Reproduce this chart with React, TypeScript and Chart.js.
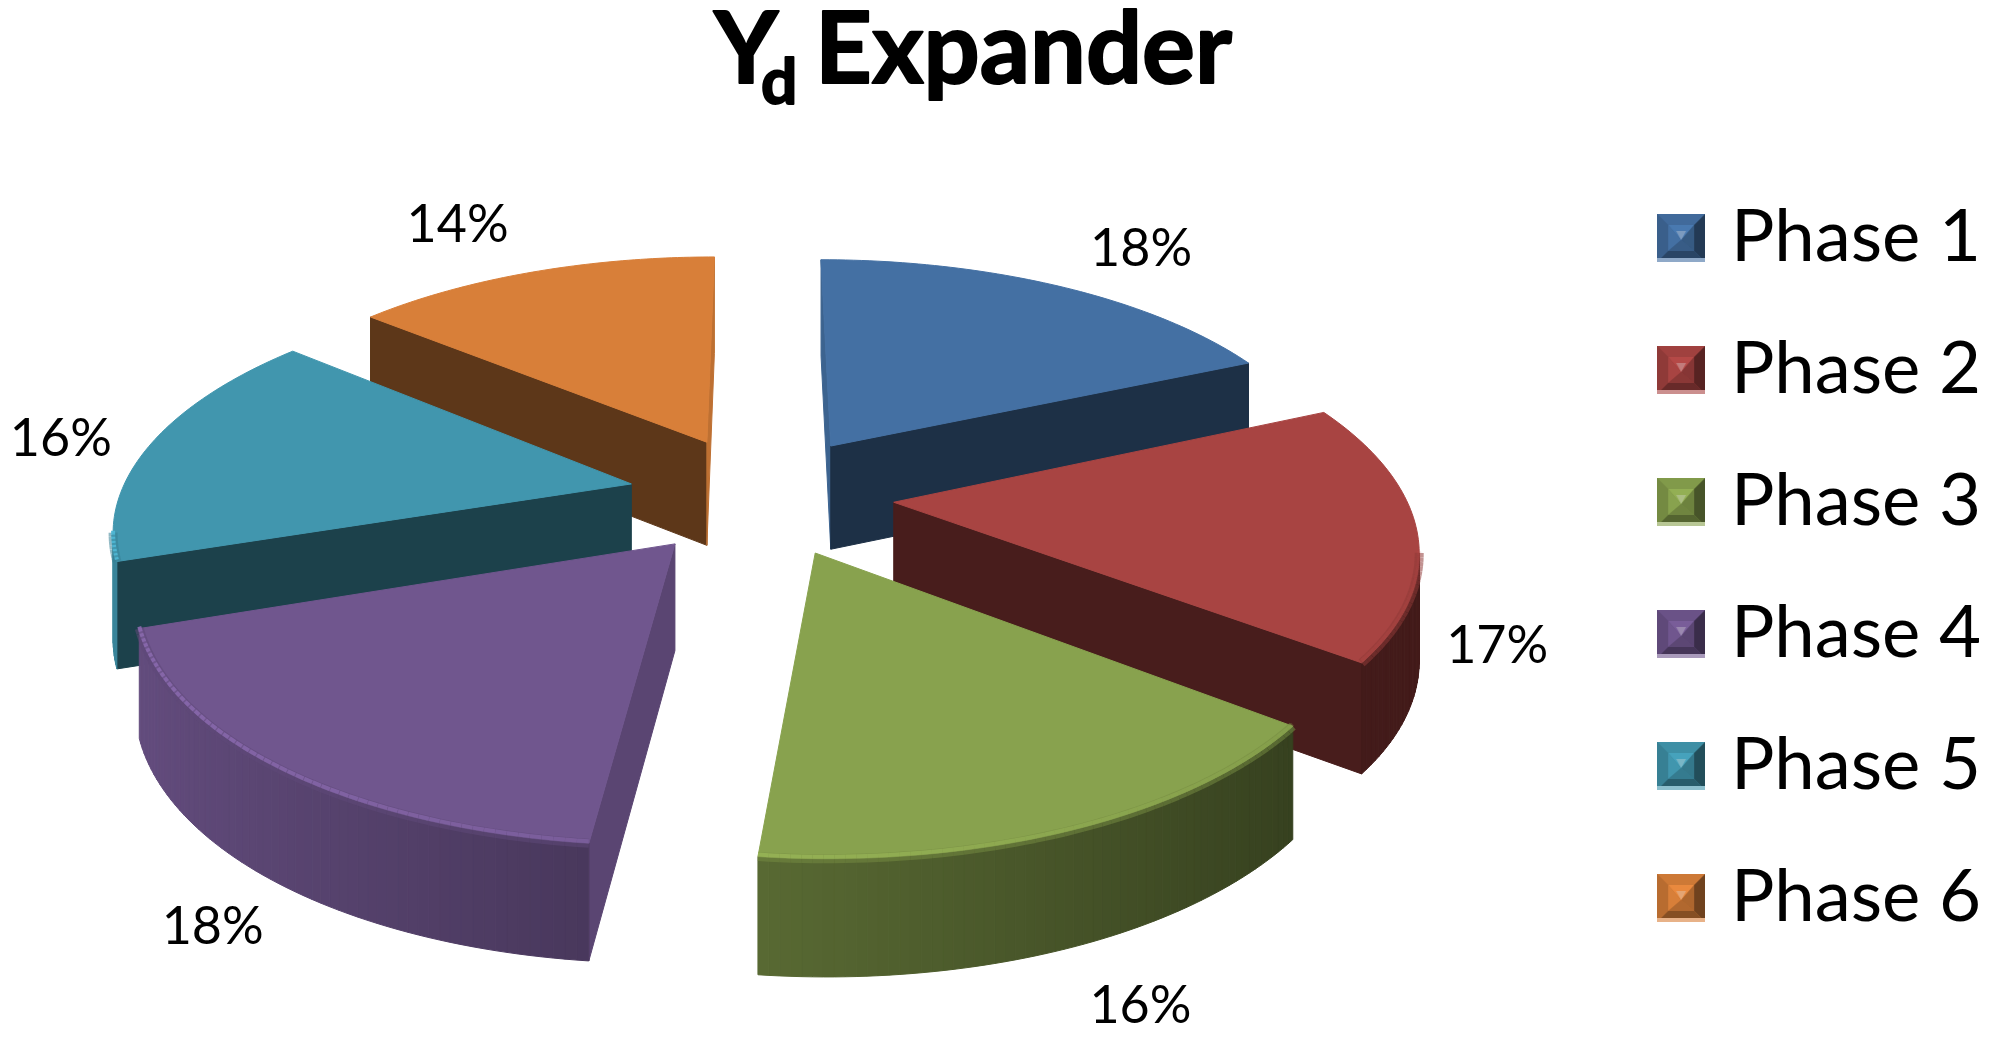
import React, { useEffect, useRef } from "react";
import { Chart, registerables } from "chart.js";

Chart.register(...registerables);

const categories = ["Phase 1", "Phase 2", "Phase 3", "Phase 4", "Phase 5", "Phase 6"];
const shares = [18.3, 17.2, 16.2, 18.1, 16.3, 13.9];
const faceColors = ["#4470a3", "#a84442", "#88a24e", "#70568e", "#4196ae", "#d87f39"];
const labelNudgeX = [42, -31, 0, 32, 5, -44];
const labelNudgeY = [-8, 3, -14, -14, 4, -17];

const FONT = "Lato, Carlito, 'Open Sans', sans-serif";
const VIEW = { x: 761, y: 495, tilt: 0.455, distance: 3050, depth: 105 };

function rgb(hex: string) {
  const n = parseInt(hex.slice(1), 16);
  return [(n >> 16) & 255, (n >> 8) & 255, n & 255];
}
function shade(hex: string, f: number, alpha = 1) {
  const [r, g, b] = rgb(hex);
  const c = (v: number) => Math.max(0, Math.min(255, Math.round(v * f)));
  return `rgba(${c(r)},${c(g)},${c(b)},${alpha})`;
}
function tint(hex: string, w: number) {
  const [r, g, b] = rgb(hex);
  const c = (v: number) => Math.round(v + (255 - v) * w);
  return `rgb(${c(r)},${c(g)},${c(b)})`;
}
function project(X: number, Y: number, Z: number) {
  const s = VIEW.distance / (VIEW.distance - Y);
  return { x: VIEW.x + X * s, y: VIEW.y + VIEW.tilt * Y * s + Z * (0.52 + 0.48 * s) };
}
function fillPoly(ctx: CanvasRenderingContext2D, pts: { x: number; y: number }[], color: string) {
  ctx.beginPath();
  pts.forEach((p, i) => (i ? ctx.lineTo(p.x, p.y) : ctx.moveTo(p.x, p.y)));
  ctx.closePath();
  ctx.fillStyle = color;
  ctx.strokeStyle = color;
  ctx.lineWidth = 1;
  ctx.fill();
  ctx.stroke();
}

function sliceGeometry(arc: any) {
  const mid = (arc.startAngle + arc.endAngle) / 2;
  const off = arc.options.offset;
  return {
    ax: off * Math.cos(mid),
    ay: off * Math.sin(mid),
    mid,
    off,
    r: arc.outerRadius,
    start: arc.startAngle,
    end: arc.endAngle,
  };
}

function drawSlice(ctx: CanvasRenderingContext2D, arc: any) {
  const g = sliceGeometry(arc);
  const base: string = arc.options.backgroundColor;
  const N = 60;
  const ang = (i: number) => g.start + ((g.end - g.start) * i) / N;
  const P = (a: number, z: number) =>
    project(g.ax + g.r * Math.cos(a), g.ay + g.r * Math.sin(a), z);
  const apexTop = project(g.ax, g.ay, 0);
  const apexLow = project(g.ax, g.ay, VIEW.depth);

  const cutWall = (a: number, visible: boolean) => {
    if (!visible) return;
    const nx = Math.abs(Math.cos(a));
    const f = Math.max(0.43, 0.88 - 0.75 * nx);
    fillPoly(ctx, [apexTop, P(a, 0), P(a, VIEW.depth), apexLow], shade(base, f));
  };
  cutWall(g.start, P(g.start, 0).x < apexTop.x);
  cutWall(g.end, P(g.end, 0).x > apexTop.x);

  // outer curved wall
  for (let i = 0; i < N; i++) {
    const a0 = ang(i);
    const a1 = ang(i + 1);
    const t0 = P(a0, 0);
    const t1 = P(a1, 0);
    if (t1.x >= t0.x) continue;
    const nx = Math.cos((a0 + a1) / 2);
    const f = Math.max(0.4, 0.62 - 0.28 * nx);
    fillPoly(ctx, [t0, t1, P(a1, VIEW.depth), P(a0, VIEW.depth)], shade(base, f));
  }

  // top face
  const top = [apexTop];
  for (let i = 0; i <= N; i++) top.push(P(ang(i), 0));
  fillPoly(ctx, top, base);

  // soft bevel along the front rim
  for (let i = 0; i < N; i++) {
    const a0 = ang(i);
    const a1 = ang(i + 1);
    const t0 = P(a0, 0);
    const t1 = P(a1, 0);
    if (t1.x >= t0.x) continue;
    const nx = Math.cos((a0 + a1) / 2);
    const k = Math.max(0, 0.5 - 0.5 * nx);
    ctx.beginPath();
    ctx.moveTo(t0.x, t0.y);
    ctx.lineTo(t1.x, t1.y);
    ctx.lineCap = "butt";
    ctx.strokeStyle = shade(base, 0.85, 0.55);
    ctx.lineWidth = 9;
    ctx.stroke();
    ctx.beginPath();
    ctx.moveTo(t0.x, t0.y - 2);
    ctx.lineTo(t1.x, t1.y - 2);
    ctx.strokeStyle = shade(base, 1.22, 0.1 + 0.85 * k);
    ctx.lineWidth = 4;
    ctx.stroke();
  }
}

const pie3d = {
  id: "pie3d",
  beforeDatasetDraw(chart: any) {
    const ctx = chart.ctx as CanvasRenderingContext2D;
    const arcs: any[] = [...chart.getDatasetMeta(0).data];
    arcs.sort((a, b) => sliceGeometry(a).ay - sliceGeometry(b).ay);
    ctx.save();
    arcs.forEach((a) => drawSlice(ctx, a));
    ctx.restore();
    return false;
  },
  afterDraw(chart: any) {
    const ctx = chart.ctx as CanvasRenderingContext2D;
    ctx.save();
    ctx.fillStyle = "#000";
    ctx.textAlign = "center";
    ctx.textBaseline = "middle";
    ctx.font = `52px ${FONT}`;
    chart.getDatasetMeta(0).data.forEach((arc: any, i: number) => {
      const g = sliceGeometry(arc);
      const R = g.off + g.r + 106;
      const X = R * Math.cos(g.mid);
      const Y = R * Math.sin(g.mid);
      const p = project(X, Y, Y > 0 ? VIEW.depth : 0);
      ctx.fillText(`${Math.round(shares[i])}%`, p.x + labelNudgeX[i], p.y + labelNudgeY[i]);
    });

    // title with subscript
    ctx.textAlign = "left";
    ctx.textBaseline = "alphabetic";
    ctx.strokeStyle = "#000";
    ctx.lineJoin = "round";
    ctx.lineWidth = 2;
    ctx.font = `bold 99px ${FONT}`;
    ctx.fillText("Y", 714, 83);
    ctx.strokeText("Y", 714, 83);
    ctx.fillText("Expander", 815, 83);
    ctx.strokeText("Expander", 815, 83);
    ctx.font = `bold 64px ${FONT}`;
    ctx.fillText("d", 761, 104);
    ctx.strokeText("d", 761, 104);
    ctx.restore();
  },
};

function bevelMarker(color: string) {
  const size = 48;
  const c = document.createElement("canvas");
  c.width = size;
  c.height = size;
  const x = c.getContext("2d") as CanvasRenderingContext2D;
  const m = size / 2;
  const i = 11;
  const tri = (pts: number[][], col: string) => {
    x.beginPath();
    pts.forEach((p, n) => (n ? x.lineTo(p[0], p[1]) : x.moveTo(p[0], p[1])));
    x.closePath();
    x.fillStyle = col;
    x.fill();
  };
  x.fillStyle = shade(color, 0.9);
  x.fillRect(0, 0, size, size);
  tri([[0, 0], [size, 0], [size - i, i], [i, i]], shade(color, 0.95));
  tri([[0, 0], [i, i], [i, size - i], [0, size]], shade(color, 0.85));
  tri([[size, 0], [size - i, i], [size - i, size - i], [size, size]], shade(color, 0.52));
  tri([[0, size], [i, size - i], [size - i, size - i], [size, size]], shade(color, 0.62));
  tri([[i, i], [size - i, i], [m, m + 2]], shade(color, 1.08));
  tri([[i, i], [m, m + 2], [i, size - i]], shade(color, 1.0));
  tri([[size - i, i], [m, m + 2], [size - i, size - i]], shade(color, 0.8));
  tri([[i, size - i], [m, m + 2], [size - i, size - i]], shade(color, 0.82));
  tri([[m - 5, m - 7], [m + 5, m - 7], [m, m + 2]], tint(color, 0.3));
  x.fillStyle = tint(color, 0.4);
  x.fillRect(0, size - 4, size, 4);
  return c;
}

export default function App() {
  const ref = useRef<HTMLCanvasElement>(null);
  useEffect(() => {
    document.body.style.margin = "0";
    const markers = faceColors.map(bevelMarker);
    const chart = new Chart(ref.current as HTMLCanvasElement, {
      type: "pie",
      data: {
        labels: categories,
        datasets: [
          {
            data: shares,
            backgroundColor: faceColors,
            borderWidth: 0,
            offset: 133,
          },
        ],
      },
      options: {
        responsive: false,
        animation: false,
        devicePixelRatio: 1,
        radius: 511,
        layout: { padding: { top: 93, right: 4, bottom: 0, left: 0 } },
        plugins: {
          tooltip: { enabled: false },
          title: { display: false },
          legend: {
            display: true,
            position: "right",
            labels: {
              usePointStyle: true,
              boxHeight: 48,
              pointStyleWidth: 27,
              padding: 59.5,
              color: "#000",
              font: { family: FONT, size: 72.5 },
              generateLabels(c: any) {
                const items = (Chart as any).overrides.doughnut.plugins.legend.labels.generateLabels(c);
                return items.map((it: any, i: number) => ({ ...it, pointStyle: markers[i] }));
              },
            },
          },
        },
      },
      plugins: [pie3d],
    } as any);
    return () => chart.destroy();
  }, []);
  return <canvas ref={ref} width={1995} height={1043} style={{ display: "block" }} />;
}
